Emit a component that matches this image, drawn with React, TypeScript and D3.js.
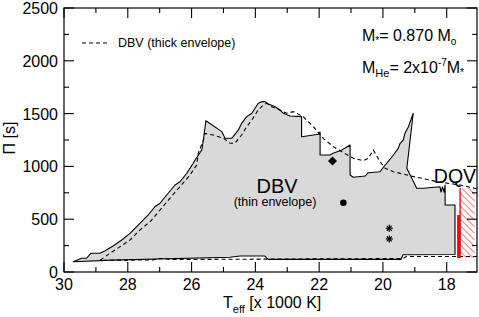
import React from "react";
import * as d3 from "d3";

const W = 479;
const H = 317;

const xMajor = [30, 28, 26, 24, 22, 20, 18];
const xMinor = [29, 27, 25, 23, 21, 19];
const yMajor = [0, 500, 1000, 1500, 2000, 2500];
const yMinor = [250, 750, 1250, 1750, 2250];

// DBV instability domain, thin envelope: [Teff (kK), period (s)]
const thinEnvelope: [number, number][] = [
  [29.71, 97], [29.45, 130], [29.29, 130], [29.16, 177], [28.87, 177],
  [28.71, 202], [28.46, 246], [28.19, 303], [27.93, 366], [27.62, 461],
  [27.36, 540], [27.15, 618], [26.99, 651], [26.78, 729], [26.52, 824],
  [26.36, 855], [26.15, 935], [25.95, 1029], [25.89, 1061], [25.68, 1155],
  [25.63, 1250], [25.55, 1433], [25.05, 1329], [24.95, 1266], [24.74, 1266],
  [24.53, 1345], [24.43, 1408], [24.27, 1471], [24.11, 1503], [23.91, 1598],
  [23.8, 1613], [23.7, 1613], [23.59, 1591], [23.38, 1565], [23.23, 1534],
  [23.12, 1503], [22.91, 1477], [22.55, 1471], [22.55, 1281], [22.02, 1305],
  [21.97, 1325], [21.97, 1108], [21.66, 1108], [21.56, 1124], [21.29, 1155],
  [21.03, 1203], [21.03, 919], [20.93, 897], [20.56, 909], [20.46, 940],
  [20.09, 950], [19.93, 1013], [19.67, 1108], [19.52, 1171], [19.46, 1219],
  [19.36, 1250], [19.31, 1313], [19.2, 1376], [19.05, 1503], [19.25, 982],
  [18.94, 793], [18.73, 793], [18.21, 808], [18.18, 757], [18.13, 805],
  [18.08, 757], [18.05, 824], [18.05, 634], [17.74, 634], [17.74, 166],
  [19.37, 164], [19.43, 120], [23.6, 120], [23.7, 151], [24.48, 151],
  [24.8, 139], [28.5, 112]
];

// DBV, thick envelope (dashed)
const thickEnvelope: [number, number][] = [
  [17.05, 147], [19.27, 147], [19.37, 128], [26.68, 118], [26.83, 128],
  [27.05, 128], [27.21, 114], [28.87, 111], [28.56, 177], [28.24, 240],
  [27.93, 303], [27.62, 398], [27.3, 476], [26.99, 587], [26.68, 698],
  [26.36, 808], [26.05, 919], [25.84, 1013], [25.79, 1124], [25.63, 1250],
  [25.58, 1313], [25.32, 1297], [25.0, 1266], [24.79, 1219], [24.64, 1219],
  [24.43, 1297], [24.27, 1376], [24.11, 1439], [23.91, 1534], [23.75, 1581],
  [23.64, 1598], [23.49, 1565], [23.23, 1534], [23.02, 1503], [22.81, 1518],
  [22.5, 1471], [22.18, 1376], [21.87, 1266], [21.56, 1187], [21.24, 1130],
  [20.93, 1077], [20.61, 1054], [20.46, 1077], [20.3, 1155], [20.09, 1045],
  [19.93, 982], [19.67, 950], [19.25, 919], [18.94, 897], [18.52, 871],
  [18.31, 855], [17.58, 824], [17.05, 788]
];

// observed stars
const starTeff = [21.58, 21.24, 19.8, 19.8];
const starPeriod = [1051, 656, 414, 313];
const starShape = ["diamond", "circle", "asterisk", "asterisk"];

// DQV strip
const dqvTeff = [17.61, 17.12];
const dqvPeriod = [795, 132];
const dqvEdgeLow = 540;

const font = "Liberation Sans, Arial, Helvetica, sans-serif";

export default function App() {
  const x = d3.scaleLinear().domain([30, 17.05]).range([64, 477]);
  const y = d3.scaleLinear().domain([0, 2500]).range([272, 8]);
  const [x0, x1] = x.range();
  const [y0, y1] = y.range();

  const line = d3
    .line<[number, number]>()
    .x((d) => x(d[0]))
    .y((d) => y(d[1]));

  const hx0 = x(dqvTeff[0]);
  const hx1 = x(dqvTeff[1]);
  const hy0 = y(dqvPeriod[0]);
  const hy1 = y(dqvPeriod[1]);
  const hatch: number[] = d3.range(hy0 - (hx1 - hx0), hy1 + 1, 6.5);

  return (
    <svg width={W} height={H} style={{ display: "block", fontFamily: font }}>
      <style>{`body{margin:0}`}</style>
      <defs>
        <clipPath id="hatchClip">
          <rect x={hx0} y={hy0} width={hx1 - hx0} height={hy1 - hy0} />
        </clipPath>
      </defs>

      {/* thin envelope region */}
      <path d={line(thinEnvelope) + "Z"} fill="#d9d9d9" stroke="#000" strokeWidth={1.1} strokeLinejoin="round" />
      {/* thick envelope */}
      <path d={line(thickEnvelope) || ""} fill="none" stroke="#000" strokeWidth={1.1} strokeDasharray="4,3" />

      {/* DQV hatch */}
      <g clipPath="url(#hatchClip)">
        {hatch.map((v, i) => (
          <line key={i} x1={hx0} y1={v} x2={hx1} y2={v + (hx1 - hx0)} stroke="#f08a8a" strokeWidth={1.1} />
        ))}
      </g>
      <line x1={hx0 + 1} x2={hx0 + 1} y1={hy0} y2={hy1} stroke="#ff0000" strokeWidth={1.3} />
      <line x1={hx0 - 0.5} x2={hx0 - 0.5} y1={y(dqvEdgeLow)} y2={hy1} stroke="#ff0000" strokeWidth={3} />

      {/* stars */}
      {starTeff.map((t, i) => {
        const cx = x(t);
        const cy = y(starPeriod[i]);
        if (starShape[i] === "diamond")
          return <path key={i} d={`M${cx},${cy - 4.5}L${cx + 4.5},${cy}L${cx},${cy + 4.5}L${cx - 4.5},${cy}Z`} fill="#000" />;
        if (starShape[i] === "circle") return <circle key={i} cx={cx} cy={cy} r={3.3} fill="#000" />;
        return (
          <g key={i} stroke="#000" strokeWidth={1.2}>
            {[0, 45, 90, 135].map((a) => (
              <line key={a} x1={cx - 3.5} y1={cy} x2={cx + 3.5} y2={cy} transform={`rotate(${a},${cx},${cy})`} />
            ))}
          </g>
        );
      })}

      {/* frame */}
      <rect x={x0} y={y1} width={x1 - x0} height={y0 - y1} fill="none" stroke="#000" strokeWidth={1.2} />

      {/* ticks */}
      <g stroke="#000" strokeWidth={1.1}>
        {xMajor.map((t) => (
          <g key={"xm" + t}>
            <line x1={x(t)} x2={x(t)} y1={y0} y2={y0 - 10} />
            <line x1={x(t)} x2={x(t)} y1={y1} y2={y1 + 10} />
          </g>
        ))}
        {xMinor.map((t) => (
          <g key={"xn" + t}>
            <line x1={x(t)} x2={x(t)} y1={y0} y2={y0 - 5} />
            <line x1={x(t)} x2={x(t)} y1={y1} y2={y1 + 5} />
          </g>
        ))}
        {yMajor.map((t) => (
          <g key={"ym" + t}>
            <line x1={x0} x2={x0 + 10} y1={y(t)} y2={y(t)} />
            <line x1={x1} x2={x1 - 10} y1={y(t)} y2={y(t)} />
          </g>
        ))}
        {yMinor.map((t) => (
          <g key={"yn" + t}>
            <line x1={x0} x2={x0 + 5} y1={y(t)} y2={y(t)} />
            <line x1={x1} x2={x1 - 5} y1={y(t)} y2={y(t)} />
          </g>
        ))}
      </g>

      {/* tick labels */}
      <g fontSize={16} fill="#000">
        {xMajor.map((t) => (
          <text key={"xl" + t} x={x(t)} y={y0 + 18} textAnchor="middle">{t}</text>
        ))}
        {yMajor.map((t) => (
          <text key={"yl" + t} x={58} y={y(t) + 6} textAnchor="end">{t}</text>
        ))}
      </g>

      {/* axis titles */}
      <text x={223} y={308} fontSize={16}>
        T<tspan fontSize={11} dy={5}>eff</tspan>
        <tspan dy={-5}> [x 1000 K]</tspan>
      </text>
      <text transform="translate(15,138) rotate(-90)" textAnchor="middle" fontSize={16}>Π [s]</text>

      {/* legend */}
      <line x1={82} x2={107} y1={43} y2={43} stroke="#000" strokeWidth={1.1} strokeDasharray="4,3" />
      <text x={118} y={47} fontSize={12.5}>DBV (thick envelope)</text>

      {/* model info */}
      <text x={362} y={41} fontSize={16}>
        M<tspan fontSize={10} dy={3}>*</tspan>
        <tspan dy={-3}>= 0.870 M</tspan>
        <tspan fontSize={10} dy={4}>o</tspan>
      </text>
      <text x={362} y={73} fontSize={16}>
        M<tspan fontSize={11} dy={4}>He</tspan>
        <tspan dy={-4}>= 2x10</tspan>
        <tspan fontSize={10} dy={-7}>-7</tspan>
        <tspan dy={7}>M</tspan>
        <tspan fontSize={10} dy={3}>*</tspan>
      </text>

      {/* region labels */}
      <text x={277} y={193} fontSize={20} textAnchor="middle">DBV</text>
      <text x={275} y={206} fontSize={12.5} textAnchor="middle">(thin envelope)</text>
      <text x={455} y={183} fontSize={19.5} textAnchor="middle">DQV</text>
    </svg>
  );
}
